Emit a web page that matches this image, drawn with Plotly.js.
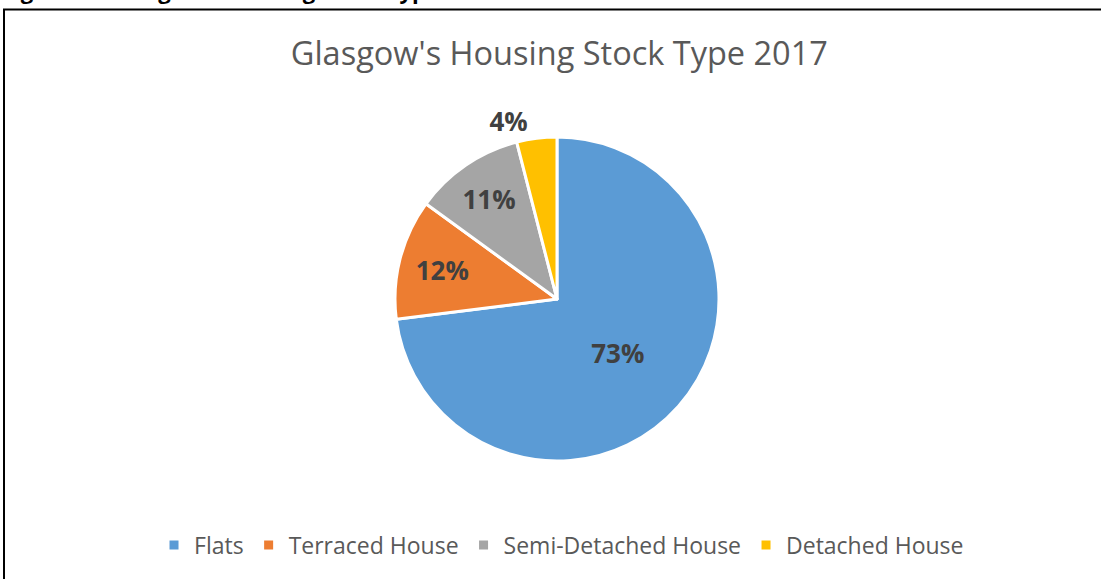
<!DOCTYPE html>
<html>
<head>
<meta charset="utf-8">
<script src="https://cdn.plot.ly/plotly-3.0.1.min.js"></script>
<style>
html,body{margin:0;padding:0;background:#fff;overflow:hidden;}
#chart{width:1101px;height:579px;}
</style>
</head>
<body>
<div id="chart"></div>
<script>
const categories = ["Flats", "Terraced House", "Semi-Detached House", "Detached House"];
const shares = [73, 12, 11, 4];
const colors = ["#5B9BD5", "#ED7D31", "#A5A5A5", "#FFC000"];
const labelPositions = ["inside", "inside", "inside", "outside"];
const chartTitle = "Glasgow's Housing Stock Type 2017";
const caption = "Figure 1 \u2013 Glasgow's Housing Stock Type 2017";

const W = 1101, H = 579;
const px = v => v / W;
const py = v => 1 - v / H;

const cx = 557, cy = 299, r = 162;
const labelFont = { family: "Open Sans, sans-serif", size: 26, color: "#404040", weight: "bold" };

const trace = {
  type: "pie",
  labels: categories,
  values: shares,
  sort: false,
  direction: "clockwise",
  rotation: 0,
  marker: { colors: colors, line: { color: "#ffffff", width: 3 } },
  textinfo: "percent",
  texttemplate: "%{percent:.0%}",
  textposition: labelPositions,
  insidetextorientation: "horizontal",
  textfont: labelFont,
  outsidetextfont: labelFont,
  insidetextfont: labelFont,
  domain: { x: [px(cx - r), px(cx + r)], y: [py(cy + r), py(cy - r)] },
  hoverinfo: "label+percent",
  showlegend: true
};

const layout = {
  width: W, height: H,
  margin: { l: 0, r: 0, t: 0, b: 0 },
  paper_bgcolor: "#ffffff",
  font: { family: "Open Sans, sans-serif", color: "#595959" },
  title: {
    text: chartTitle,
    font: { family: "Open Sans, sans-serif", size: 32.5, color: "#595959" },
    x: 0.508, xanchor: "center",
    y: 1 - 54 / H, yanchor: "middle",
    xref: "paper", yref: "paper"
  },
  showlegend: true,
  legend: {
    orientation: "h",
    x: 0.51, xanchor: "center",
    y: py(545), yanchor: "middle",
    font: { family: "Open Sans, sans-serif", size: 23, color: "#595959" },
    itemwidth: 30,
    traceorder: "normal"
  },
  shapes: [
    { type: "rect", xref: "paper", yref: "paper",
      x0: px(4), x1: px(1110), y0: py(590), y1: py(9.5),
      line: { color: "#000000", width: 2 }, fillcolor: "rgba(0,0,0,0)" }
  ],
  annotations: [
    { text: "<b>" + caption + "</b>", xref: "paper", yref: "paper",
      x: 0, xanchor: "left", y: py(7), yanchor: "bottom",
      showarrow: false, font: { family: "Open Sans, sans-serif", size: 22, color: "#000000" } }
  ]
};

Plotly.newPlot("chart", [trace], layout, { displayModeBar: false, staticPlot: true });
</script>
</body>
</html>
